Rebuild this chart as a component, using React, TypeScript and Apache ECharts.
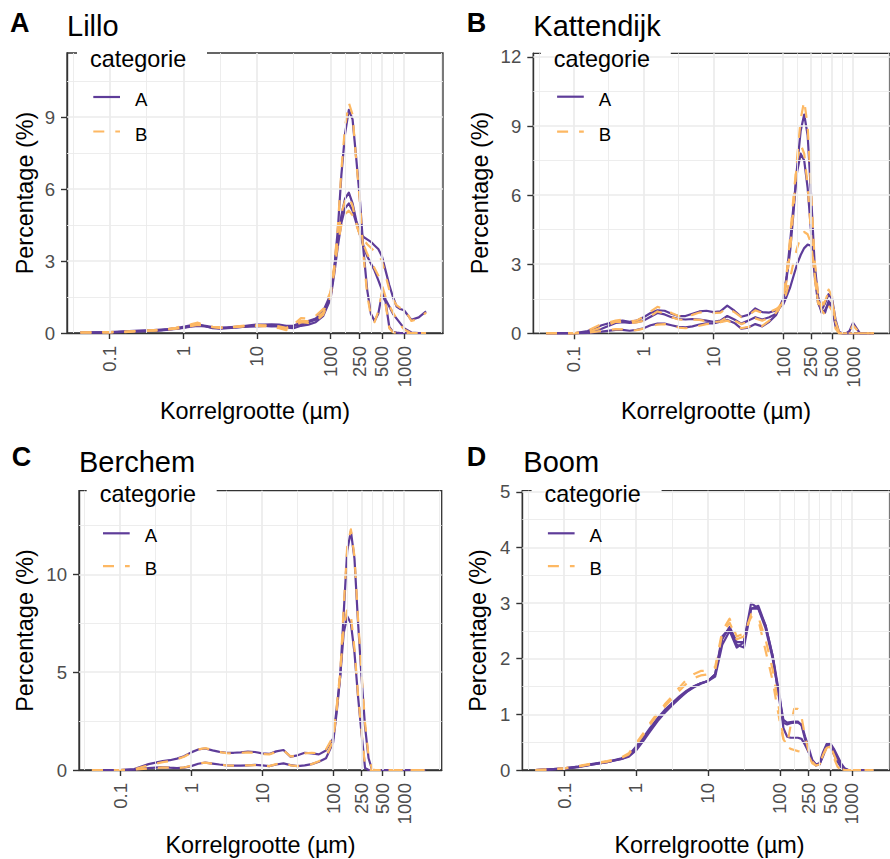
import React, { useEffect, useRef } from "react";
import * as echarts from "echarts";

// ---------- data ----------
const SIZES_UM = [
  0.04, 0.063, 0.1, 0.158, 0.251, 0.398, 0.501, 0.631, 0.794, 1,
  1.26, 1.58, 2, 2.51, 3.16, 3.98, 5.01, 6.31, 7.94, 10,
  12.6, 15.8, 20, 25.1, 31.6, 39.8, 50.1, 63.1, 79.4, 100,
  112, 126, 141, 158, 178, 200, 224, 251, 282, 316,
  355, 398, 447, 501, 562, 631, 708, 794, 891, 1000,
  1259, 1585, 1995,
];

const X_TICKS = [0.1, 1, 10, 100, 250, 500, 1000];
const X_TICK_LABELS = ["0.1", "1", "10", "100", "250", "500", "1000"];

// Lillo
const LILLO_A1 = [
  0.02, 0.03, 0.04, 0.07, 0.1, 0.12, 0.14, 0.16, 0.2, 0.26,
  0.32, 0.36, 0.28, 0.2, 0.18, 0.2, 0.22, 0.25, 0.28, 0.3,
  0.3, 0.28, 0.3, 0.25, 0.3, 0.45, 0.5, 0.6, 0.9, 1.6,
  2.6, 4.3, 6.6, 8.3, 9.3, 8.9, 7.3, 5.6, 3.4, 1.8,
  0.8, 0.5, 0.8, 1.6, 1.3, 0.25, 0.05, 0.02, 0, 0,
  0, 0, 0,
];
const LILLO_A2 = [
  0.02, 0.02, 0.03, 0.05, 0.08, 0.1, 0.12, 0.15, 0.18, 0.22,
  0.28, 0.33, 0.3, 0.25, 0.22, 0.24, 0.26, 0.28, 0.32, 0.35,
  0.35, 0.36, 0.35, 0.3, 0.3, 0.35, 0.45, 0.55, 0.8, 1.5,
  2.6, 3.9, 4.9, 5.6, 5.85, 5.4, 4.7, 4.2, 4.0, 3.9,
  3.8, 3.65, 3.5, 3.2, 2.6, 2.0, 1.5, 1.1, 1.0, 0.95,
  0.55, 0.65, 0.9,
];
const LILLO_A3 = [
  0.02, 0.02, 0.03, 0.05, 0.07, 0.09, 0.11, 0.14, 0.17, 0.21,
  0.26, 0.3, 0.27, 0.22, 0.2, 0.21, 0.23, 0.25, 0.27, 0.28,
  0.3, 0.3, 0.28, 0.22, 0.2, 0.3, 0.35, 0.45, 0.7, 1.4,
  2.4, 3.6, 4.6, 5.2, 5.4, 5.1, 4.6, 4.1, 3.6, 3.2,
  2.9, 2.6, 2.2, 1.8, 1.4, 1.1, 0.8, 0.6, 0.4, 0.2,
  0.02, 0, 0,
];
const LILLO_B1 = [
  0.02, 0.03, 0.04, 0.06, 0.09, 0.12, 0.14, 0.17, 0.22, 0.3,
  0.36, 0.43, 0.33, 0.25, 0.22, 0.22, 0.25, 0.28, 0.3, 0.3,
  0.28, 0.25, 0.2, 0.12, 0.35, 0.62, 0.6, 0.72, 1.0, 1.7,
  2.7, 4.4, 6.8, 8.6, 9.6, 9.1, 7.2, 5.5, 3.2, 1.6,
  0.7, 0.45, 0.9, 1.7, 1.2, 0.2, 0.03, 0, 0, 0,
  0, 0, 0,
];
const LILLO_B2 = [
  0.02, 0.02, 0.03, 0.05, 0.08, 0.11, 0.13, 0.16, 0.19, 0.24,
  0.3, 0.38, 0.32, 0.26, 0.24, 0.25, 0.27, 0.3, 0.33, 0.33,
  0.32, 0.3, 0.28, 0.22, 0.32, 0.5, 0.5, 0.6, 0.85, 1.6,
  2.7, 4.0, 5.0, 5.5, 5.7, 5.3, 4.6, 4.1, 3.9, 3.7,
  3.55, 3.4, 3.3, 3.0, 2.4, 1.8, 1.4, 1.15, 1.05, 1.05,
  0.5, 0.6, 0.85,
];
const LILLO_B3 = [
  0.02, 0.02, 0.03, 0.04, 0.07, 0.1, 0.12, 0.15, 0.18, 0.23,
  0.28, 0.34, 0.3, 0.24, 0.21, 0.22, 0.24, 0.27, 0.3, 0.32,
  0.3, 0.28, 0.25, 0.18, 0.26, 0.45, 0.42, 0.5, 0.75, 1.5,
  2.5, 3.7, 4.5, 4.95, 5.1, 4.9, 4.5, 4.1, 3.7, 3.3,
  3.0, 2.7, 2.4, 2.0, 1.5, 1.15, 0.85, 0.6, 0.35, 0.15,
  0, 0, 0,
];

// Kattendijk
const KATT_A1 = [
  0, 0, 0, 0.02, 0.07, 0.15, 0.15, 0.11, 0.15, 0.22,
  0.35, 0.42, 0.42, 0.35, 0.28, 0.26, 0.3, 0.38, 0.43, 0.43,
  0.5, 0.58, 0.45, 0.2, 0.25, 0.4, 0.3, 0.5, 0.8, 1.5,
  2.4, 3.6, 5.3, 7.2, 8.8, 9.5, 8.6, 6.0, 3.0, 1.6,
  1.0, 0.9, 1.4, 1.2, 0.3, 0.02, 0, 0, 0.1, 0.45,
  0, 0, 0,
];
const KATT_A2 = [
  0, 0, 0, 0.05, 0.2, 0.45, 0.48, 0.45, 0.48, 0.55,
  0.72, 0.88, 0.82, 0.7, 0.62, 0.6, 0.62, 0.6, 0.55, 0.5,
  0.55, 0.75, 0.6, 0.42, 0.55, 0.7, 0.6, 0.7, 0.85, 1.4,
  2.5, 4.0, 5.6, 7.0, 7.8, 7.5, 6.3, 4.4, 2.5, 1.3,
  1.0, 1.3, 1.7, 1.5, 0.6, 0.05, 0, 0, 0, 0,
  0, 0, 0,
];
const KATT_A3 = [
  0, 0, 0, 0.1, 0.35, 0.52, 0.55, 0.5, 0.55, 0.7,
  0.88, 1.0, 0.98, 0.85, 0.75, 0.75, 0.85, 0.95, 0.98, 0.92,
  0.95, 1.2, 0.98, 0.72, 0.8, 1.08, 0.92, 0.9, 1.0, 1.25,
  1.6, 2.0, 2.5, 3.0, 3.4, 3.7, 3.85, 3.8, 2.8, 1.4,
  0.9, 1.0, 1.3, 1.1, 0.4, 0.03, 0, 0, 0, 0,
  0, 0, 0,
];
const KATT_B1 = [
  0, 0, 0, 0.03, 0.1, 0.18, 0.17, 0.12, 0.14, 0.2,
  0.3, 0.38, 0.4, 0.33, 0.25, 0.22, 0.26, 0.33, 0.4, 0.42,
  0.48, 0.55, 0.42, 0.22, 0.28, 0.36, 0.32, 0.55, 0.85, 1.4,
  2.3, 3.6, 5.5, 7.6, 9.3, 10.1, 9.0, 6.2, 3.2, 1.7,
  1.0, 0.8, 1.2, 1.0, 0.2, 0, 0, 0, 0.05, 0.35,
  0, 0, 0,
];
const KATT_B2 = [
  0, 0, 0, 0.06, 0.25, 0.5, 0.5, 0.45, 0.47, 0.55,
  0.75, 0.95, 0.85, 0.7, 0.6, 0.58, 0.6, 0.58, 0.52, 0.48,
  0.52, 0.7, 0.55, 0.4, 0.5, 0.65, 0.55, 0.68, 0.9, 1.5,
  2.6, 4.2, 6.0, 7.5, 8.2, 7.8, 6.4, 4.3, 2.4, 1.4,
  1.2, 1.5, 1.9, 1.6, 0.5, 0.02, 0, 0, 0, 0,
  0, 0, 0,
];
const KATT_B3 = [
  0, 0, 0, 0.12, 0.4, 0.55, 0.6, 0.52, 0.55, 0.72,
  0.95, 1.15, 1.05, 0.88, 0.75, 0.72, 0.8, 0.9, 0.92, 0.88,
  0.9, 1.1, 0.92, 0.7, 0.78, 1.0, 0.88, 0.92, 1.05, 1.3,
  1.8, 2.4, 3.1, 3.7, 4.2, 4.4, 4.3, 3.9, 2.6, 1.3,
  1.0, 1.4, 1.8, 1.4, 0.5, 0.05, 0, 0, 0, 0,
  0, 0, 0,
];

// Berchem
const BERCH_A1 = [
  0, 0, 0, 0.02, 0.1, 0.15, 0.12, 0.1, 0.12, 0.2,
  0.32, 0.38, 0.33, 0.28, 0.24, 0.22, 0.22, 0.24, 0.26, 0.24,
  0.2, 0.28, 0.34, 0.25, 0.2, 0.24, 0.3, 0.42, 0.6, 1.4,
  2.9, 4.8, 8.0, 11.2, 12.2, 10.8, 7.6, 4.8, 2.2, 0.6,
  0, 0, 0, 0, 0, 0, 0, 0, 0, 0,
  0, 0, 0,
];
const BERCH_A2 = [
  0, 0, 0, 0.05, 0.3, 0.45, 0.5, 0.58, 0.7, 0.9,
  1.05, 1.1, 1.0, 0.93, 0.88, 0.88, 0.9, 0.94, 0.92, 0.85,
  0.82, 0.95, 1.02, 0.68, 0.75, 0.88, 0.85, 0.8, 1.0, 1.6,
  3.1, 4.8, 7.0, 7.85, 7.5, 6.0, 3.8, 1.9, 0.1, 0,
  0, 0, 0, 0, 0, 0, 0, 0, 0, 0,
  0, 0, 0,
];
const BERCH_B1 = [
  0, 0, 0, 0.02, 0.08, 0.13, 0.12, 0.1, 0.13, 0.22,
  0.34, 0.38, 0.32, 0.27, 0.24, 0.22, 0.22, 0.24, 0.25, 0.23,
  0.2, 0.3, 0.36, 0.24, 0.2, 0.25, 0.3, 0.45, 0.65, 1.5,
  3.0, 4.9, 8.3, 11.4, 12.3, 10.9, 7.8, 5.0, 2.4, 0.7,
  0.02, 0, 0, 0, 0, 0, 0, 0, 0, 0,
  0, 0, 0,
];
const BERCH_B2 = [
  0, 0, 0, 0.04, 0.25, 0.4, 0.45, 0.55, 0.68, 0.88,
  1.05, 1.12, 1.02, 0.92, 0.86, 0.85, 0.88, 0.9, 0.88, 0.82,
  0.8, 0.92, 1.0, 0.7, 0.72, 0.85, 0.88, 0.85, 1.05, 1.7,
  3.2, 5.0, 7.3, 8.2, 7.9, 6.2, 3.9, 2.0, 0.2, 0,
  0, 0, 0, 0, 0, 0, 0, 0, 0, 0,
  0, 0, 0,
];

// Boom
const BOOM_A1 = [
  0, 0.01, 0.03, 0.06, 0.11, 0.15, 0.18, 0.21, 0.27, 0.42,
  0.58, 0.76, 0.93, 1.08, 1.2, 1.32, 1.42, 1.5, 1.56, 1.6,
  1.72, 2.35, 2.57, 2.3, 2.3, 2.9, 2.9, 2.55, 2.0, 1.25,
  0.9, 0.85, 0.86, 0.87, 0.87, 0.8, 0.55, 0.33, 0.17, 0.1,
  0.1, 0.25, 0.42, 0.47, 0.35, 0.22, 0.1, 0.02, 0, 0,
  0, 0, 0,
];
const BOOM_A2 = [
  0, 0.01, 0.03, 0.06, 0.1, 0.14, 0.17, 0.2, 0.25, 0.38,
  0.55, 0.72, 0.9, 1.05, 1.18, 1.3, 1.4, 1.48, 1.55, 1.6,
  1.72, 2.4, 2.55, 2.25, 2.2, 2.9, 2.95, 2.6, 2.05, 1.3,
  0.75, 0.6, 0.58, 0.58, 0.58, 0.56, 0.45, 0.32, 0.15, 0.08,
  0.1, 0.28, 0.45, 0.48, 0.38, 0.25, 0.12, 0.03, 0, 0,
  0, 0, 0,
];
const BOOM_A3 = [
  0, 0.01, 0.02, 0.05, 0.1, 0.14, 0.17, 0.2, 0.24, 0.35,
  0.52, 0.7, 0.88, 1.03, 1.16, 1.28, 1.4, 1.5, 1.56, 1.6,
  1.68, 2.25, 2.5, 2.2, 2.3, 3.0, 2.9, 2.6, 2.05, 1.2,
  0.85, 0.82, 0.84, 0.85, 0.85, 0.82, 0.6, 0.4, 0.18, 0.1,
  0.12, 0.32, 0.47, 0.44, 0.28, 0.15, 0.05, 0, 0, 0,
  0, 0, 0,
];
const BOOM_B1 = [
  0, 0.01, 0.03, 0.07, 0.12, 0.16, 0.19, 0.23, 0.3, 0.48,
  0.66, 0.85, 1.03, 1.18, 1.32, 1.48, 1.62, 1.72, 1.78, 1.78,
  1.85, 2.5, 2.72, 2.4, 2.45, 2.75, 2.7, 2.15, 1.6, 0.85,
  0.55, 0.45, 0.8, 1.1, 1.1, 0.95, 0.6, 0.33, 0.15, 0.08,
  0.1, 0.25, 0.4, 0.42, 0.22, 0.06, 0, 0, 0, 0,
  0, 0, 0,
];
const BOOM_B2 = [
  0, 0.01, 0.03, 0.06, 0.11, 0.15, 0.18, 0.22, 0.28, 0.45,
  0.63, 0.82, 1.0, 1.14, 1.28, 1.42, 1.55, 1.65, 1.7, 1.72,
  1.8, 2.45, 2.65, 2.35, 2.4, 2.8, 2.75, 2.35, 1.8, 1.0,
  0.55, 0.42, 0.38, 0.36, 0.34, 0.33, 0.3, 0.25, 0.12, 0.08,
  0.1, 0.27, 0.42, 0.44, 0.28, 0.12, 0.02, 0, 0, 0,
  0, 0, 0,
];

// ---------- style ----------
const FONT = "'Liberation Sans', Arial, Helvetica, sans-serif";
const PURPLE = "#5e3c99";
const ORANGE = "#fdb863";
const GRID_COLOR = "#ebebeb";
const AXIS_COLOR = "#333333";
const TICK_TEXT = "#4d4d4d";
const X_MIN = -1.58;
const X_MAX = 3.53;

const SIZE_LOGS = SIZES_UM.map((s) => Math.log10(s));
const X_TICK_LOGS = X_TICKS.map((t) => Math.log10(t));
const X_MINOR_LOGS = [-1.5, 3.5];
for (let i = 0; i < X_TICK_LOGS.length - 1; i++) {
  X_MINOR_LOGS.push((X_TICK_LOGS[i] + X_TICK_LOGS[i + 1]) / 2);
}

type Curve = { cat: "A" | "B"; values: number[] };
type Panel = {
  tag: string;
  title: string;
  left: number;
  top: number;
  width: number;
  height: number;
  yMax: number;
  yTicks: number[];
  yMinor: number[];
  curves: Curve[];
  tagPos: [number, number];
  titlePos: [number, number];
  xTitlePos: [number, number];
  yTitlePos: [number, number];
  leg: { dx: number; titleY: number; keyA: number; keyB: number; bottom: number };
};

const PANELS: Panel[] = [
  {
    tag: "A",
    title: "Lillo",
    left: 67,
    top: 53,
    width: 376,
    height: 280,
    yMax: 11.67,
    yTicks: [0, 3, 6, 9],
    yMinor: [1.5, 4.5, 7.5, 10.5],
    curves: [
      { cat: "A", values: LILLO_A1 },
      { cat: "A", values: LILLO_A2 },
      { cat: "A", values: LILLO_A3 },
      { cat: "B", values: LILLO_B1 },
      { cat: "B", values: LILLO_B2 },
      { cat: "B", values: LILLO_B3 },
    ],
    tagPos: [10, 23.4],
    titlePos: [67, 26],
    xTitlePos: [255, 410.5],
    yTitlePos: [25, 193],
    leg: { dx: 0, titleY: 5.5, keyA: 44, keyB: 78.5, bottom: 106 },
  },
  {
    tag: "B",
    title: "Kattendijk",
    left: 533.3,
    top: 53.3,
    width: 365.2,
    height: 280,
    yMax: 12.16,
    yTicks: [0, 3, 6, 9, 12],
    yMinor: [1.5, 4.5, 7.5, 10.5],
    curves: [
      { cat: "A", values: KATT_A1 },
      { cat: "A", values: KATT_A2 },
      { cat: "A", values: KATT_A3 },
      { cat: "B", values: KATT_B1 },
      { cat: "B", values: KATT_B2 },
      { cat: "B", values: KATT_B3 },
    ],
    tagPos: [466.7, 23],
    titlePos: [533.3, 26],
    xTitlePos: [716, 410.5],
    yTitlePos: [480, 193],
    leg: { dx: -2.5, titleY: 5.3, keyA: 43.4, keyB: 78.4, bottom: 106 },
  },
  {
    tag: "C",
    title: "Berchem",
    left: 79,
    top: 490.7,
    width: 362.7,
    height: 279.3,
    yMax: 14.27,
    yTicks: [0, 5, 10],
    yMinor: [2.5, 7.5, 12.5],
    curves: [
      { cat: "A", values: BERCH_A1 },
      { cat: "A", values: BERCH_A2 },
      { cat: "B", values: BERCH_B1 },
      { cat: "B", values: BERCH_B2 },
    ],
    tagPos: [11.7, 457],
    titlePos: [79, 462],
    xTitlePos: [260.5, 845],
    yTitlePos: [25, 630.5],
    leg: { dx: -2.3, titleY: 3, keyA: 42.6, keyB: 75.5, bottom: 104 },
  },
  {
    tag: "D",
    title: "Boom",
    left: 522.3,
    top: 490.7,
    width: 375,
    height: 279.3,
    yMax: 5.02,
    yTicks: [0, 1, 2, 3, 4, 5],
    yMinor: [0.5, 1.5, 2.5, 3.5, 4.5],
    curves: [
      { cat: "A", values: BOOM_A1 },
      { cat: "A", values: BOOM_A2 },
      { cat: "A", values: BOOM_A3 },
      { cat: "B", values: BOOM_B1 },
      { cat: "B", values: BOOM_B2 },
    ],
    tagPos: [466.7, 457],
    titlePos: [523.3, 462],
    xTitlePos: [709.5, 845],
    yTitlePos: [478.3, 630.5],
    leg: { dx: -0.7, titleY: 3, keyA: 42.6, keyB: 75.5, bottom: 104 },
  },
];

function textEl(text: string, x: number, y: number, size: number, opts: any = {}) {
  return {
    type: "text",
    x,
    y,
    rotation: opts.rotation || 0,
    z: 6,
    silent: true,
    style: {
      text,
      fontSize: size,
      fontFamily: FONT,
      fontWeight: opts.bold ? "bold" : "normal",
      fill: opts.fill || "#000000",
      align: opts.align || "left",
      verticalAlign: "middle",
    },
  };
}

function buildOption() {
  const grid: any[] = [];
  const xAxis: any[] = [];
  const yAxis: any[] = [];
  const series: any[] = [];
  const elements: any[] = [];

  PANELS.forEach((p, k) => {
    grid.push({
      left: p.left,
      top: p.top,
      width: p.width,
      height: p.height,
      show: true,
      borderColor: AXIS_COLOR,
      borderWidth: 1.3,
      backgroundColor: "transparent",
      z: 2,
    });
    xAxis.push({
      type: "value",
      gridIndex: k,
      min: X_MIN,
      max: X_MAX,
      z: 2,
      axisLine: { show: true, onZero: false, lineStyle: { color: AXIS_COLOR, width: 1.4 } },
      axisTick: {
        show: true,
        customValues: X_TICK_LOGS,
        length: 6,
        lineStyle: { color: AXIS_COLOR, width: 1.4 },
      },
      axisLabel: {
        customValues: X_TICK_LOGS,
        rotate: 90,
        margin: 13,
        color: TICK_TEXT,
        fontSize: 18.6,
        fontFamily: FONT,
        formatter: (v: number) => {
          const i = X_TICK_LOGS.findIndex((t) => Math.abs(t - v) < 1e-6);
          return i >= 0 ? X_TICK_LABELS[i] : "";
        },
      },
      splitLine: { show: false },
    });
    yAxis.push({
      type: "value",
      gridIndex: k,
      min: 0,
      max: p.yMax,
      z: 2,
      axisLine: { show: true, onZero: false, lineStyle: { color: AXIS_COLOR, width: 1.4 } },
      axisTick: {
        show: true,
        customValues: p.yTicks,
        length: 6,
        lineStyle: { color: AXIS_COLOR, width: 1.4 },
      },
      axisLabel: {
        customValues: p.yTicks,
        margin: 12,
        color: TICK_TEXT,
        fontSize: 18.6,
        fontFamily: FONT,
      },
      splitLine: { show: false },
    });

    const minorStyle = { color: GRID_COLOR, width: 0.9, type: "solid" };
    const majorStyle = { color: GRID_COLOR, width: 1.7, type: "solid" };
    series.push({
      type: "line",
      xAxisIndex: k,
      yAxisIndex: k,
      data: [[X_MIN, 0]],
      symbol: "none",
      silent: true,
      z: 1,
      lineStyle: { width: 0 },
      markLine: {
        silent: true,
        symbol: ["none", "none"],
        label: { show: false },
        emphasis: { disabled: true },
        animation: false,
        lineStyle: { color: GRID_COLOR, type: "solid", opacity: 1 },
        data: [
          ...X_MINOR_LOGS.map((v) => ({ xAxis: v, lineStyle: minorStyle })),
          ...p.yMinor.map((v) => ({ yAxis: v, lineStyle: minorStyle })),
          ...X_TICK_LOGS.map((v) => ({ xAxis: v, lineStyle: majorStyle })),
          ...p.yTicks.filter((v) => v > 0).map((v) => ({ yAxis: v, lineStyle: majorStyle })),
        ],
      },
    });

    p.curves.forEach((c) => {
      const color = c.cat === "A" ? PURPLE : ORANGE;
      series.push({
        type: "line",
        name: c.cat,
        xAxisIndex: k,
        yAxisIndex: k,
        data: SIZE_LOGS.map((x, i) => [x, c.values[i]]),
        symbol: "none",
        showSymbol: false,
        silent: true,
        z: 3,
        emphasis: { disabled: true },
        itemStyle: { color },
        lineStyle: {
          color,
          width: 2.2,
          type: c.cat === "A" ? "solid" : [11, 11],
          cap: "butt",
          join: "round",
        },
      });
    });

    // texts
    elements.push(textEl(p.tag, p.tagPos[0], p.tagPos[1], 27, { bold: true }));
    elements.push(textEl(p.title, p.titlePos[0], p.titlePos[1], 29));
    elements.push(textEl("Korrelgrootte (µm)", p.xTitlePos[0], p.xTitlePos[1], 23.4, { align: "center" }));
    elements.push(
      textEl("Percentage (%)", p.yTitlePos[0], p.yTitlePos[1], 23.4, { align: "center", rotation: Math.PI / 2 })
    );

    // legend
    const L = p.left + p.leg.dx;
    const T = p.top;
    elements.push({
      type: "rect",
      x: L + 10,
      y: T - 14,
      z: 4,
      silent: true,
      shape: { x: 0, y: 0, width: 130, height: p.leg.bottom + 14 },
      style: { fill: "#ffffff" },
    });
    elements.push(textEl("categorie", L + 23, T + p.leg.titleY, 23.4));
    elements.push({
      type: "line",
      z: 6,
      silent: true,
      shape: { x1: L + 26.3, y1: T + p.leg.keyA, x2: L + 53, y2: T + p.leg.keyA },
      style: { stroke: PURPLE, lineWidth: 2.2 },
    });
    elements.push({
      type: "line",
      z: 6,
      silent: true,
      shape: { x1: L + 26.3, y1: T + p.leg.keyB, x2: L + 53, y2: T + p.leg.keyB },
      style: { stroke: ORANGE, lineWidth: 2.2, lineDash: [11, 11] },
    });
    elements.push(textEl("A", L + 68, T + p.leg.keyA + 2.5, 18.6));
    elements.push(textEl("B", L + 68, T + p.leg.keyB + 2.5, 18.6));
  });

  return {
    animation: false,
    backgroundColor: "#ffffff",
    grid,
    xAxis,
    yAxis,
    series,
    graphic: { elements },
  };
}

export default function App() {
  const ref = useRef<HTMLDivElement>(null);
  useEffect(() => {
    if (!ref.current) return;
    const chart = echarts.init(ref.current, null, { renderer: "svg" });
    chart.setOption(buildOption() as any);
    return () => {
      chart.dispose();
    };
  }, []);
  return (
    <div
      ref={ref}
      style={{ position: "absolute", left: 0, top: 0, width: 890, height: 859, background: "#ffffff" }}
    />
  );
}
